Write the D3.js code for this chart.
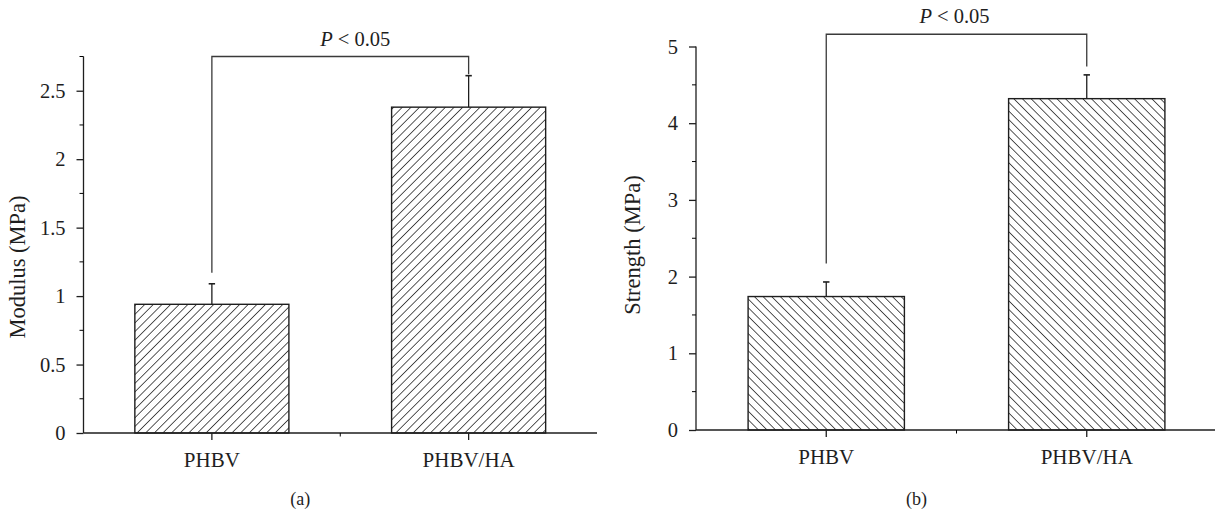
<!DOCTYPE html>
<html>
<head>
<meta charset="utf-8">
<script src="https://cdn.jsdelivr.net/npm/d3@7"></script>
<style>
	body { margin: 0; background: #fff; }
	svg { display: block; font-family: 'Liberation Serif', 'DejaVu Serif', serif; }
</style>
</head>
<body>
<svg class="chart"></svg>
<script>
const [width, height] = [1215, 512]

// Values.
const categories = ['PHBV', 'PHBV/HA']
const modulus = [0.94, 2.38]
const modulusErr = [0.15, 0.23]
const strength = [1.74, 4.32]
const strengthErr = [0.19, 0.31]
// Significance bracket: left leg end, right leg end, top (data units).
const modulusBracket = [1.17, 2.62, 2.75]
const strengthBracket = [2.17, 4.74, 5.16]
const pLabel = 'P < 0.05'

const svg = d3.select('svg.chart')
	.attr('width', width)
	.attr('height', height)

const ink = '#1e1e1e'

// hatch patterns
const defs = svg.append('defs')
const hatch = (id, angle) => {
	defs.append('pattern')
		.attr('id', id)
		.attr('patternUnits', 'userSpaceOnUse')
		.attr('width', 6.1)
		.attr('height', 6.1)
		.attr('patternTransform', `rotate(${angle})`)
		.append('line')
			.attr('x1', 0).attr('y1', 0)
			.attr('x2', 0).attr('y2', 6.1)
			.attr('stroke', '#111')
			.attr('stroke-width', 1.4)
}
hatch('fwd', 45)
hatch('back', -45)

function panel({ left, right, top, bottom, max, major, minor, values, errors, bracket, fill, title, titleX, titleY, pDx, caption }) {
	const x = d3.scaleBand().domain(categories).range([left, right]).padding(0)
	const y = d3.scaleLinear().domain([0, max]).range([bottom, top])
	const g = svg.append('g')
	const barW = x.bandwidth() * 0.6
	const cx = d => x(d) + x.bandwidth() / 2

	// bars
	g.selectAll('rect.bar')
			.data(categories)
		.enter().append('rect')
			.attr('x', d => cx(d) - barW / 2)
			.attr('y', (d, i) => y(values[i]))
			.attr('width', barW)
			.attr('height', (d, i) => y(0) - y(values[i]))
			.attr('fill', `url(#${fill})`)
			.attr('stroke', ink)
			.attr('stroke-width', 1.4)

	// error bars
	const err = g.selectAll('g.err')
			.data(categories)
		.enter().append('g')
	err.append('line')
		.attr('x1', cx).attr('x2', cx)
		.attr('y1', (d, i) => y(values[i]))
		.attr('y2', (d, i) => y(values[i] + errors[i]))
		.attr('stroke', ink).attr('stroke-width', 1.3)
	err.append('line')
		.attr('x1', d => cx(d) - 3.2).attr('x2', d => cx(d) + 3.2)
		.attr('y1', (d, i) => y(values[i] + errors[i]))
		.attr('y2', (d, i) => y(values[i] + errors[i]))
		.attr('stroke', ink).attr('stroke-width', 1.6)

	// y axis: major ticks with labels, minor ticks between
	const yMajor = d3.range(0, max + 1e-9, major)
	const yMinor = d3.range(0, max + 1e-9, minor).filter(v => Math.abs(v / major - Math.round(v / major)) > 1e-6)
	const yAxis = g.append('g')
		.attr('transform', `translate(${left},0)`)
		.call(d3.axisLeft(y).tickValues(yMajor).tickSize(7).tickPadding(11).tickFormat(d3.format('~g')))
	yAxis.select('.domain').attr('d', `M0,${y(max)}V${y(0)}`)
	yAxis.append('g').selectAll('line')
			.data(yMinor)
		.enter().append('line')
			.attr('x1', -4).attr('x2', 0)
			.attr('y1', y).attr('y2', y)
			.attr('stroke', 'currentColor')

	// x axis
	const xAxis = g.append('g')
		.attr('transform', `translate(0,${bottom})`)
		.call(d3.axisBottom(x).tickSize(7).tickPadding(12))
	xAxis.select('.domain').attr('d', `M${left},0H${right}`)
	xAxis.append('line')
		.attr('x1', (left + right) / 2).attr('x2', (left + right) / 2)
		.attr('y1', 0).attr('y2', 3.5)
		.attr('stroke', 'currentColor')

	yAxis.attr('font-family', null).attr('font-size', 20.5)
	xAxis.attr('font-family', null).attr('font-size', 21)
	g.selectAll('.tick text').attr('fill', ink)
	g.selectAll('.domain, .tick line').attr('stroke', ink).attr('stroke-width', 1.3)

	// axis title
	g.append('text')
		.attr('transform', `translate(${titleX},${titleY}) rotate(-90)`)
		.attr('text-anchor', 'middle')
		.attr('font-size', 22.5)
		.attr('fill', ink)
		.text(title)

	// significance bracket
	const [l0, l1, l2] = bracket
	const xa = cx(categories[0]), xb = cx(categories[1])
	g.append('path')
		.attr('d', `M${xa},${y(l0)}V${y(l2)}H${xb}V${y(l1)}`)
		.attr('fill', 'none')
		.attr('stroke', '#3a3a3a')
		.attr('stroke-width', 1.3)
	const p = g.append('text')
		.attr('x', (xa + xb) / 2 + pDx)
		.attr('y', y(l2) - 11)
		.attr('text-anchor', 'middle')
		.attr('font-size', 20.5)
		.attr('fill', ink)
	p.append('tspan').attr('font-style', 'italic').text(pLabel.slice(0, 1))
	p.append('tspan').text(pLabel.slice(1))

	// caption
	svg.append('text')
		.attr('x', (left + right) / 2 - 40)
		.attr('y', 505)
		.attr('text-anchor', 'middle')
		.attr('font-size', 18)
		.attr('fill', ink)
		.text(caption)
}

panel({
	left: 83.5, right: 597, top: 56.5, bottom: 433,
	max: 2.75, major: 0.5, minor: 0.25,
	values: modulus, errors: modulusErr, bracket: modulusBracket,
	fill: 'fwd', title: 'Modulus (MPa)', titleX: 25, titleY: 267, pDx: 15,
	caption: '(a)'
})

panel({
	left: 696, right: 1217, top: 46.5, bottom: 430,
	max: 5, major: 1, minor: 0.5,
	values: strength, errors: strengthErr, bracket: strengthBracket,
	fill: 'back', title: 'Strength (MPa)', titleX: 640, titleY: 245, pDx: -2,
	caption: '(b)'
})
</script>
</body>
</html>
